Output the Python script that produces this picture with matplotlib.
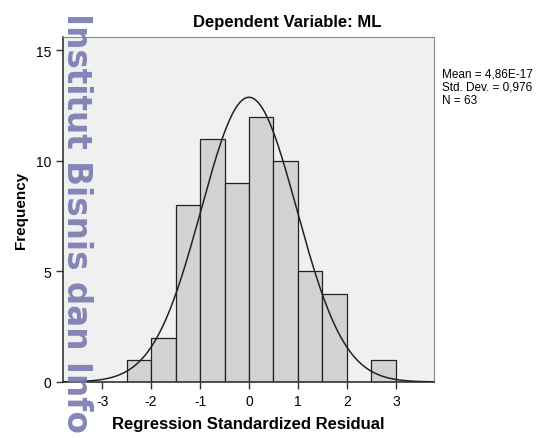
import numpy as np
import matplotlib
matplotlib.use("Agg")
import matplotlib.pyplot as plt

plt.rcParams["font.family"] = ["Liberation Sans", "DejaVu Sans"]

bin_edges = [-2.5, -2.0, -1.5, -1.0, -0.5, 0.0, 0.5, 1.0, 1.5, 2.0, 2.5, 3.0]
counts = [1, 2, 8, 11, 9, 12, 10, 5, 4, 0, 1]
mean = 4.86e-17
std = 0.976
n = 63
x_ticks = [-3, -2, -1, 0, 1, 2, 3]
y_ticks = [0, 5, 10, 15]

fig = plt.figure(figsize=(5.49, 4.39), dpi=100)
ax = fig.add_axes([0.1148, 0.1276, 0.6757, 0.7858])
ax.set_facecolor("#f0f0f0")

lefts = np.array(bin_edges[:-1])
widths = np.diff(bin_edges)
ax.bar(lefts, counts, width=widths, align="edge", color="#d3d3d3",
       edgecolor="#222222", linewidth=0.9, zorder=2)

bw = widths[0]
xs = np.linspace(-3.8, 3.8, 400)
ys = n * bw / (std * np.sqrt(2 * np.pi)) * np.exp(-0.5 * ((xs - mean) / std) ** 2)
ax.plot(xs, ys, color="#222222", linewidth=1.1, zorder=3)

ax.set_xlim(-3.8, 3.78)
ax.set_ylim(0, 15.6)
ax.set_xticks(x_ticks)
ax.set_xticklabels([str(t) for t in x_ticks])
ax.set_yticks(y_ticks)
ax.tick_params(direction="out", length=5, width=1, labelsize=10, color="#333333")

for s in ["top", "right"]:
    ax.spines[s].set_color("#888888")
for s in ["left", "bottom"]:
    ax.spines[s].set_color("#333333")
    ax.spines[s].set_linewidth(1.2)

ax.set_xlabel("Regression Standardized Residual", fontsize=12, fontweight="bold", labelpad=6)
ax.set_ylabel("Frequency", fontsize=11, fontweight="bold", labelpad=6)

fig.text(287 / 549, 1 - 22 / 439, "Dependent Variable: ML", ha="center", va="center",
         fontsize=12, fontweight="bold")
fig.text(442 / 549, 1 - 88 / 439, "Mean = 4,86E-17\nStd. Dev. = 0,976\nN = 63",
         ha="left", va="center", fontsize=8.5, linespacing=1.15)

# watermark
fig.text(76 / 549, 1 - 223 / 439, "Institut Bisnis dan Info", rotation=-90,
         ha="center", va="center", fontsize=23.5, fontweight="bold",
         family="DejaVu Sans", color="#7878b0", alpha=0.9, zorder=10)

fig.savefig("out.png", dpi=100)
